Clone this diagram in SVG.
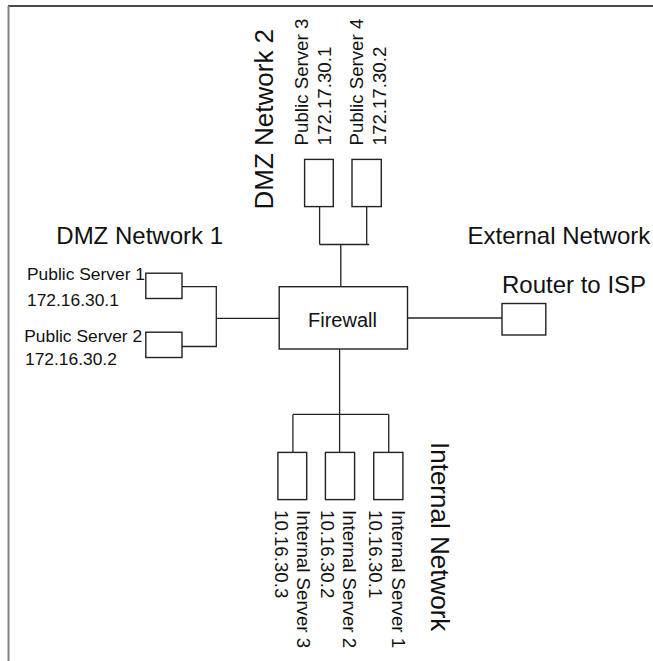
<svg xmlns="http://www.w3.org/2000/svg" width="653" height="661" viewBox="0 0 653 661">
<style>
  .box { fill: #fff; stroke: #222; stroke-width: 1.4; }
  .wire { fill: none; stroke: #222; stroke-width: 1.3; }
  text { font-family: "Liberation Sans", Arial, sans-serif; fill: #111; }
  .big { font-size: 24px; }
  .big2 { font-size: 26px; }
  .lbl { font-size: 17.4px; }
  .lbl2 { font-size: 18.7px; }
  .fw { font-size: 20px; text-anchor: middle; }
</style>
<rect x="0" y="0" width="653" height="661" fill="#fff"/>
<g id="frame">
  <line x1="8" y1="6" x2="653" y2="6" stroke="#111" stroke-width="1.5"/>
  <line x1="8.5" y1="6" x2="8.5" y2="661" stroke="#808080" stroke-width="2"/>
</g>
<g id="connectors" class="wire">
  <polyline points="182,286.7 216.3,286.7 216.3,346.5 180.4,346.5"/>
  <line x1="216.3" y1="318.3" x2="280.4" y2="318.3"/>
  <line x1="405" y1="318" x2="502" y2="318"/>
  <line x1="340.8" y1="287" x2="340.8" y2="244.5"/>
  <line x1="319.6" y1="244.5" x2="369.2" y2="244.5"/>
  <line x1="319.6" y1="206.6" x2="319.6" y2="244.5"/>
  <line x1="366.7" y1="206.6" x2="366.7" y2="244.5"/>
  <line x1="339.6" y1="349" x2="339.6" y2="452.4"/>
  <line x1="292.9" y1="414.4" x2="388.75" y2="414.4"/>
  <line x1="292.9" y1="414.4" x2="292.9" y2="452.4"/>
  <line x1="388.75" y1="414.4" x2="388.75" y2="454"/>
</g>
<g id="firewall">
  <rect class="box" x="279.2" y="286.7" width="128.3" height="62.3"/>
  <text class="fw" x="342.5" y="326.5">Firewall</text>
</g>
<g id="dmz1">
  <text class="big" x="56.3" y="243.5">DMZ Network 1</text>
</g>
<g id="ps1">
  <rect class="box" x="145.8" y="273.2" width="36.2" height="25.3"/>
  <text class="lbl" x="27" y="280">Public Server 1</text>
  <text class="lbl" x="27" y="305.5">172.16.30.1</text>
</g>
<g id="ps2">
  <rect class="box" x="145.8" y="332.2" width="36.2" height="25.3"/>
  <text class="lbl" x="24.2" y="341.5">Public Server 2</text>
  <text class="lbl" x="25" y="364.5">172.16.30.2</text>
</g>
<g id="dmz2">
  <text class="big2" transform="translate(273,209.5) rotate(-90)">DMZ Network 2</text>
</g>
<g id="ps3">
  <rect class="box" x="304.6" y="159.4" width="28.7" height="47.2"/>
  <text class="lbl2" transform="translate(307.5,145.4) rotate(-90)">Public Server 3</text>
  <text class="lbl2" transform="translate(331,145.4) rotate(-90)">172.17.30.1</text>
</g>
<g id="ps4">
  <rect class="box" x="352" y="159.4" width="29.3" height="47.2"/>
  <text class="lbl2" transform="translate(362.5,145.4) rotate(-90)">Public Server 4</text>
  <text class="lbl2" transform="translate(385.5,145.4) rotate(-90)">172.17.30.2</text>
</g>
<g id="external">
  <text class="big" x="467.5" y="244">External Network</text>
</g>
<g id="router">
  <rect class="box" x="502" y="303.5" width="43.8" height="31.5"/>
  <text class="big" x="502" y="293">Router to ISP</text>
</g>
<g id="internal">
  <text class="big2" transform="translate(431,442) rotate(90)">Internal Network</text>
</g>
<g id="is1">
  <rect class="box" x="373.75" y="452.4" width="29.15" height="47.2"/>
  <text class="lbl2" transform="translate(391.7,510) rotate(90)">Internal Server 1</text>
  <text class="lbl2" transform="translate(368.7,510) rotate(90)">10.16.30.1</text>
</g>
<g id="is2">
  <rect class="box" x="325.4" y="452.4" width="29.2" height="47.2"/>
  <text class="lbl2" transform="translate(342.5,510) rotate(90)">Internal Server 2</text>
  <text class="lbl2" transform="translate(320.8,510) rotate(90)">10.16.30.2</text>
</g>
<g id="is3">
  <rect class="box" x="277.9" y="452.4" width="28.8" height="47.2"/>
  <text class="lbl2" transform="translate(296.7,510) rotate(90)">Internal Server 3</text>
  <text class="lbl2" transform="translate(275,510) rotate(90)">10.16.30.3</text>
</g>
</svg>
